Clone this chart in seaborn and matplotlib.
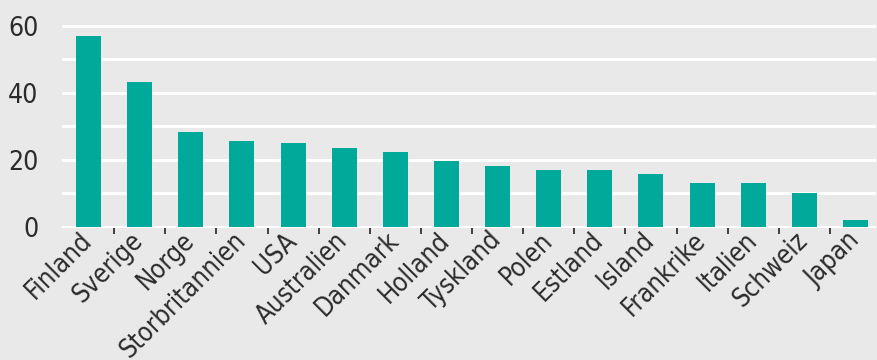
import matplotlib
matplotlib.use("Agg")
import matplotlib.pyplot as plt
from matplotlib.ticker import FixedLocator
import pandas as pd
import seaborn as sns

countries = ["Finland", "Sverige", "Norge", "Storbritannien", "USA", "Australien",
             "Danmark", "Holland", "Tyskland", "Polen", "Estland", "Island",
             "Frankrike", "Italien", "Schweiz", "Japan"]
values = [57.1, 43.4, 28.3, 25.7, 25.0, 23.5, 22.3, 19.7, 18.3, 17.0, 17.0, 15.7,
          13.0, 13.0, 10.0, 2.0]
y_ticks = [0, 20, 40, 60]

BG = "#e9e9e9"
TEAL = "#00a99a"
TEXT = "#2b2b2b"

sns.set_theme(style="white")
plt.rcParams["font.family"] = ["DejaVu Sans"]
plt.rcParams["font.stretch"] = "condensed"

df = pd.DataFrame({"land": countries, "verdi": values})

fig = plt.figure(figsize=(8.78, 3.6), dpi=100, facecolor=BG)
ax = fig.add_axes([0.0706, 0.3655, 0.927, 0.5809], facecolor=BG)

sns.barplot(data=df, x="land", y="verdi", color=TEAL, width=0.49,
            saturation=1, linewidth=0, ax=ax, zorder=3)

ax.set_xlim(-0.52, 15.4)
ax.set_ylim(-0.5, 62)

# white horizontal grid every 10 units
for y in range(0, 61, 10):
    ax.axhline(y, color="white", lw=2.2, zorder=1)

ax.yaxis.set_major_locator(FixedLocator(y_ticks))
ax.tick_params(axis="y", length=0, pad=17, labelsize=19, labelcolor=TEXT)

# category labels at bar centres, small separator ticks between bars
ax.tick_params(axis="x", which="major", length=0, pad=6, labelsize=18.5, labelcolor=TEXT)
ax.xaxis.set_minor_locator(FixedLocator([i + 0.5 for i in range(len(countries) - 1)]))
ax.tick_params(axis="x", which="minor", length=4.5, width=1.3, color="#333333",
               direction="out", bottom=True)
for lab in ax.get_xticklabels():
    lab.set_rotation(45)
    lab.set_ha("right")
    lab.set_va("center")
    lab.set_rotation_mode("anchor")
    lab.set_fontstretch("condensed")
for lab in ax.get_yticklabels():
    lab.set_fontstretch("condensed")

ax.set_xlabel("")
ax.set_ylabel("")
for s in ax.spines.values():
    s.set_visible(False)

fig.savefig("out.png", dpi=100, facecolor=BG)
